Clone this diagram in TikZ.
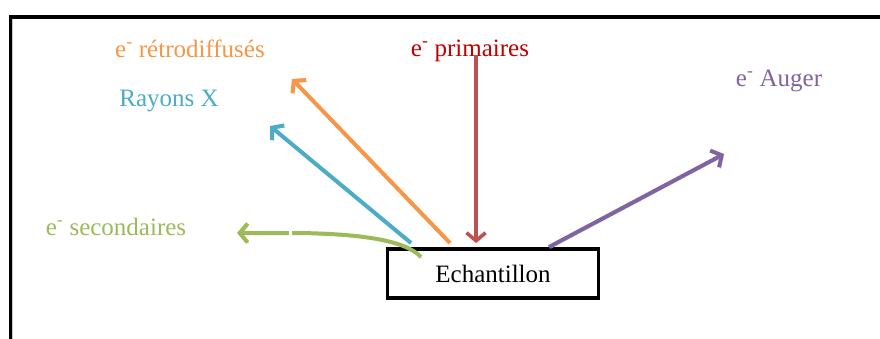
\documentclass[tikz,border=0pt]{standalone}
\usepackage{fontspec}
\setmainfont{Liberation Serif}
\usetikzlibrary{arrows.meta}
\definecolor{cOrange}{HTML}{F79646}
\definecolor{cBlue}{HTML}{4BACC6}
\definecolor{cRed}{HTML}{C0504D}
\definecolor{cRedText}{HTML}{C00000}
\definecolor{cGreen}{HTML}{9BBB59}
\definecolor{cPurple}{HTML}{8064A2}
\tikzset{
  lbl/.style={anchor=base, inner sep=0pt, font=\fontsize{25}{29}\selectfont},
  shadowed/.style={preaction={draw=black!22, transform canvas={shift={(1.5pt,-1.5pt)}}}},
  ray/.style={line width=4pt, shadowed, -{Straight Barb[length=8pt,width=19pt]}},
  samplebox/.style={draw, line width=3.5pt, minimum width=211pt, minimum height=49pt, inner sep=0pt, font=\fontsize{25}{29}\selectfont},
}
\begin{document}
\begin{tikzpicture}[x=1pt,y=-1pt]
\useasboundingbox (0,0) rectangle (880,338);
\fill[white] (0,0) rectangle (880,338);
% outer frame
\draw[line width=3.5pt, shadowed] (882,17) -- (10.5,17) -- (10.5,340);
% sample
\node[samplebox] (ech) at (493,273.5) {Echantillon};
% labels
\node[lbl, text=cOrange] (retro) at (190,57) {e\textsuperscript{-} rétrodiffusés};
\node[lbl, text=cRedText] (prim) at (470,56) {e\textsuperscript{-} primaires};
\node[lbl, text=cBlue] (rx) at (169,106) {Rayons X};
\node[lbl, text=cPurple] (auger) at (779,86) {e\textsuperscript{-} Auger};
\node[lbl, text=cGreen] (sec) at (116,235) {e\textsuperscript{-} secondaires};
% arrow end points
\coordinate (oTail) at (450,243);
\coordinate (oHead) at (292,79);
\coordinate (bTail) at (411,243);
\coordinate (bHead) at (270,126);
\coordinate (rTail) at (476,55);
\coordinate (rHead) at (476,243);
\coordinate (pTail) at (549,247);
\coordinate (pHead) at (724,154);
\coordinate (gTail) at (421,257);
\coordinate (gMid) at (300,233);
\coordinate (gHead) at (237,233);
% arrows
\draw[ray, cOrange] (oTail) -- (oHead);
\draw[ray, cBlue] (bTail) -- (bHead);
\draw[ray, cRed, line width=3.5pt] (rTail) -- (rHead);
\draw[ray, cPurple] (pTail) -- (pHead);
\draw[ray, cGreen] (gTail) .. controls (405,240) and (360,234) .. (gMid) -- (gHead);
\draw[white, line width=3pt] (290.5,227) -- (290.5,239);
\end{tikzpicture}
\end{document}
